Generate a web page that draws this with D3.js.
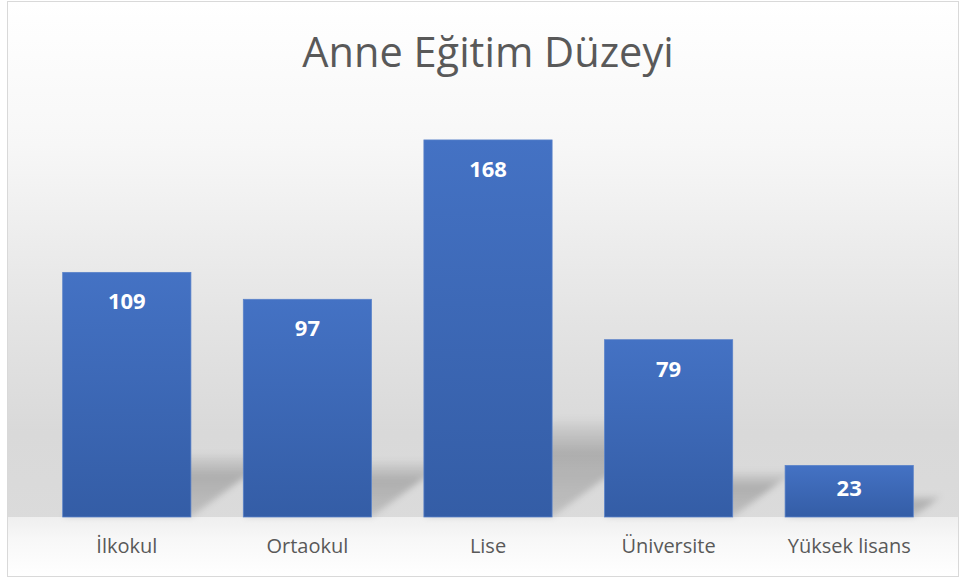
<!DOCTYPE html>
<html>
<head>
<meta charset="utf-8">
<script src="https://cdn.jsdelivr.net/npm/d3@7"></script>
<style>
  body { margin: 0; background: #fff; }
  svg { display: block; font-family: "Open Sans", "Noto Sans", sans-serif; }
</style>
</head>
<body>
<script>
// chart data
var categories = ['İlkokul', 'Ortaokul', 'Lise', 'Üniversite', 'Yüksek lisans'];
var values = [109, 97, 168, 79, 23];
var title = 'Anne Eğitim Düzeyi';

var width = 961;
var height = 578;

var svg = d3.select('body').append('svg')
  .attr('width', width)
  .attr('height', height);

var defs = svg.append('defs');

// background gradient (white at top, gray near the floor)
var bg = defs.append('linearGradient').attr('id', 'bg')
  .attr('x1', 0).attr('y1', 0).attr('x2', 0).attr('y2', 1);
bg.append('stop').attr('offset', '0%').attr('stop-color', '#ffffff');
bg.append('stop').attr('offset', '25%').attr('stop-color', '#f7f7f7');
bg.append('stop').attr('offset', '55%').attr('stop-color', '#e4e4e4');
bg.append('stop').attr('offset', '75%').attr('stop-color', '#d9d9d9');
bg.append('stop').attr('offset', '100%').attr('stop-color', '#dcdcdc');

var floor = defs.append('linearGradient').attr('id', 'floor')
  .attr('x1', 0).attr('y1', 0).attr('x2', 0).attr('y2', 1);
floor.append('stop').attr('offset', '0%').attr('stop-color', '#efefef');
floor.append('stop').attr('offset', '40%').attr('stop-color', '#f8f8f8');
floor.append('stop').attr('offset', '100%').attr('stop-color', '#ffffff');

var barGrad = defs.append('linearGradient').attr('id', 'barGrad')
  .attr('x1', 0).attr('y1', 0).attr('x2', 0).attr('y2', 1);
barGrad.append('stop').attr('offset', '0%').attr('stop-color', '#4472c4');
barGrad.append('stop').attr('offset', '100%').attr('stop-color', '#345da6');

var shGrad = defs.append('linearGradient').attr('id', 'shGrad')
  .attr('x1', 0).attr('y1', 0).attr('x2', 0).attr('y2', 1);
shGrad.append('stop').attr('offset', '0%').attr('stop-color', '#000').attr('stop-opacity', 0.02);
shGrad.append('stop').attr('offset', '35%').attr('stop-color', '#000').attr('stop-opacity', 0.2);
shGrad.append('stop').attr('offset', '100%').attr('stop-color', '#000').attr('stop-opacity', 0.12);

defs.append('filter').attr('id', 'blur')
  .attr('x', '-50%').attr('y', '-50%').attr('width', '200%').attr('height', '200%')
  .append('feGaussianBlur').attr('stdDeviation', 3);

var baseY = 517;

svg.append('rect')
  .attr('x', 7.5).attr('y', 1.5)
  .attr('width', 951).attr('height', 575)
  .attr('fill', 'url(#bg)');

svg.append('rect')
  .attr('x', 8).attr('y', baseY)
  .attr('width', 950).attr('height', 59)
  .attr('fill', 'url(#floor)');

svg.append('rect')
  .attr('x', 7.5).attr('y', 1.5)
  .attr('width', 951).attr('height', 575)
  .attr('fill', 'none')
  .attr('stroke', '#d9d9d9')
  .attr('stroke-width', 1);

var x = d3.scaleBand()
  .domain(categories)
  .range([36.5, 939.5])
  .paddingInner(0.29)
  .paddingOuter(0.145);

var y = d3.scaleLinear()
  .domain([0, 180])
  .range([baseY, baseY - 404]);

var data = categories.map(function(c, i) { return { name: c, value: values[i] }; });

// perspective shadows behind the bars
svg.append('g').selectAll('path')
  .data(data)
  .enter().append('path')
  .attr('filter', 'url(#blur)')
  .attr('fill', 'url(#shGrad)')
  .attr('d', function(d) {
    var x0 = x(d.name), x1 = x0 + x.bandwidth();
    var h = baseY - y(d.value);
    var sh = Math.max(h * 0.26, 22);
    var dx = sh * 1.35;
    return 'M' + x0 + ',' + baseY +
      'L' + x1 + ',' + baseY +
      'L' + (x1 + dx) + ',' + (baseY - sh) +
      'L' + (x0 + dx) + ',' + (baseY - sh) + 'Z';
  });

svg.append('g').selectAll('rect')
  .data(data)
  .enter().append('rect')
  .attr('x', function(d) { return x(d.name); })
  .attr('y', function(d) { return y(d.value); })
  .attr('width', x.bandwidth())
  .attr('height', function(d) { return baseY - y(d.value); })
  .attr('fill', 'url(#barGrad)')
  .attr('stroke', '#5a82c9')
  .attr('stroke-width', 0.75);

// value labels (inside end)
svg.append('g').selectAll('text')
  .data(data)
  .enter().append('text')
  .attr('x', function(d) { return x(d.name) + x.bandwidth() / 2; })
  .attr('y', function(d) {
    var h = baseY - y(d.value);
    return y(d.value) + Math.min(37, h * 0.59);
  })
  .attr('text-anchor', 'middle')
  .attr('fill', '#ffffff')
  .attr('font-weight', 'bold')
  .attr('font-size', 22)
  .text(function(d) { return d.value; });

// category axis labels
var xAxis = d3.axisBottom(x).tickSize(0).tickPadding(0);
var gx = svg.append('g')
  .attr('transform', 'translate(0,' + baseY + ')')
  .call(xAxis);
gx.select('.domain').remove();
gx.selectAll('text')
  .attr('dy', null)
  .attr('y', 36)
  .attr('fill', '#595959')
  .attr('font-size', 20)
  .attr('font-family', '"Open Sans", sans-serif');

svg.append('text')
  .attr('x', 488)
  .attr('y', 67)
  .attr('text-anchor', 'middle')
  .attr('fill', '#595959')
  .attr('font-size', 41.5)
  .text(title);
</script>
</body>
</html>
